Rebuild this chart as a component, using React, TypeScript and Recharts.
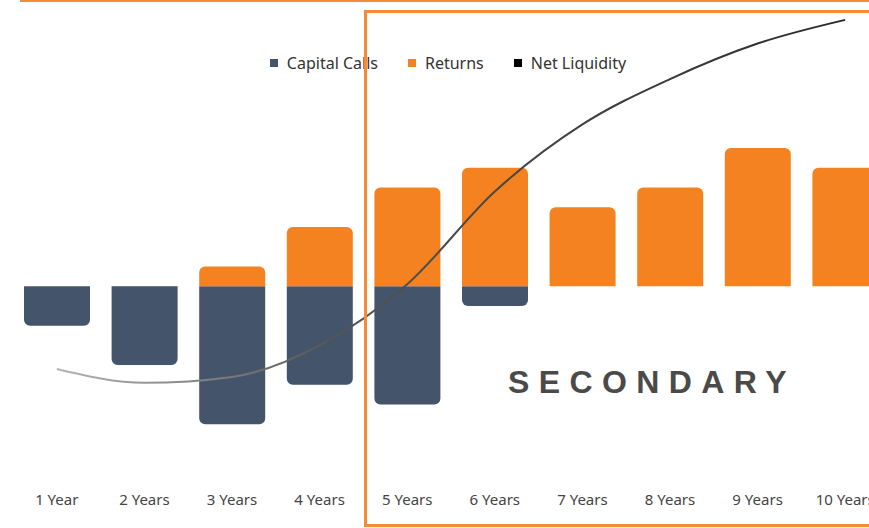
import React from "react";
import { ComposedChart, Bar, Line, XAxis, YAxis } from "recharts";

const categories = ["1 Year", "2 Years", "3 Years", "4 Years", "5 Years", "6 Years", "7 Years", "8 Years", "9 Years", "10 Years"];
const capitalCalls = [-2, -4, -7, -5, -6, -1, 0, 0, 0, 0];
const returns = [0, 0, 1, 3, 5, 6, 4, 5, 7, 6];
const netLiquidity = [-4.2, -4.9, -4.6, -3.0, 0.1, 4.8, 8.2, 10.5, 12.3, 13.5];

const NAVY = "#44546a";
const ORANGE = "#f58220";
const FRAME = "#f58b35";

const data = categories.map((name, i) => ({
  name,
  capitalCalls: capitalCalls[i],
  returns: returns[i],
  net: netLiquidity[i],
}));

const legendItems = [
  { label: "Capital Calls", color: NAVY },
  { label: "Returns", color: ORANGE },
  { label: "Net Liquidity", color: "#000" },
];

export default function App() {
  return (
    <div
      style={{
        position: "fixed",
        left: 0,
        top: 0,
        width: 869,
        height: 528,
        overflow: "hidden",
        background: "#fff",
        fontFamily: "'Noto Sans', sans-serif",
      }}
    >
      <ComposedChart
        width={900}
        height={528}
        data={data}
        stackOffset="sign"
        margin={{ top: 10, right: 11, left: 13, bottom: 54 }}
      >
        <defs>
          <linearGradient id="netGrad" x1="0" y1="0" x2="1" y2="0">
            <stop offset="0%" stopColor="#b5b5b5" />
            <stop offset="35%" stopColor="#555" />
            <stop offset="100%" stopColor="#2a2a2a" />
          </linearGradient>
        </defs>
        <XAxis
          dataKey="name"
          axisLine={false}
          tickLine={false}
          height={30}
          tickMargin={44}
          interval={0}
          tick={{ fill: "#444", fontSize: 15, fontFamily: "'Noto Sans', sans-serif" }}
        />
        <YAxis hide domain={[-8, 14]} />
        <Bar dataKey="capitalCalls" stackId="a" fill={NAVY} barSize={66} radius={[6, 6, 0, 0]} isAnimationActive={false} />
        <Bar dataKey="returns" stackId="a" fill={ORANGE} barSize={66} radius={[6, 6, 0, 0]} isAnimationActive={false} />
        <Line
          dataKey="net"
          type="monotone"
          stroke="url(#netGrad)"
          strokeWidth={2}
          dot={false}
          activeDot={false}
          isAnimationActive={false}
        />
      </ComposedChart>

      <div
        style={{
          position: "absolute",
          top: 52,
          left: 0,
          width: 896,
          display: "flex",
          justifyContent: "center",
          gap: 30,
          fontSize: 16,
          color: "#333",
        }}
      >
        {legendItems.map((item) => (
          <div key={item.label} style={{ display: "flex", alignItems: "center" }}>
            <span style={{ width: 8, height: 8, background: item.color, marginRight: 9, display: "inline-block" }} />
            <span>{item.label}</span>
          </div>
        ))}
      </div>

      <div
        style={{
          position: "absolute",
          top: 366,
          left: 508,
          fontFamily: "'Liberation Sans', Arial, sans-serif",
          fontWeight: 700,
          fontSize: 32,
          lineHeight: "32px",
          letterSpacing: 9.4,
          color: "#4a4a48",
          whiteSpace: "nowrap",
        }}
      >
        SECONDARY
      </div>

      <div style={{ position: "absolute", left: 20, top: 0, width: 860, height: 2, background: FRAME }} />
      <div
        style={{
          position: "absolute",
          left: 364,
          top: 10,
          width: 600,
          height: 517,
          boxSizing: "border-box",
          border: `3px solid ${FRAME}`,
        }}
      />
    </div>
  );
}
